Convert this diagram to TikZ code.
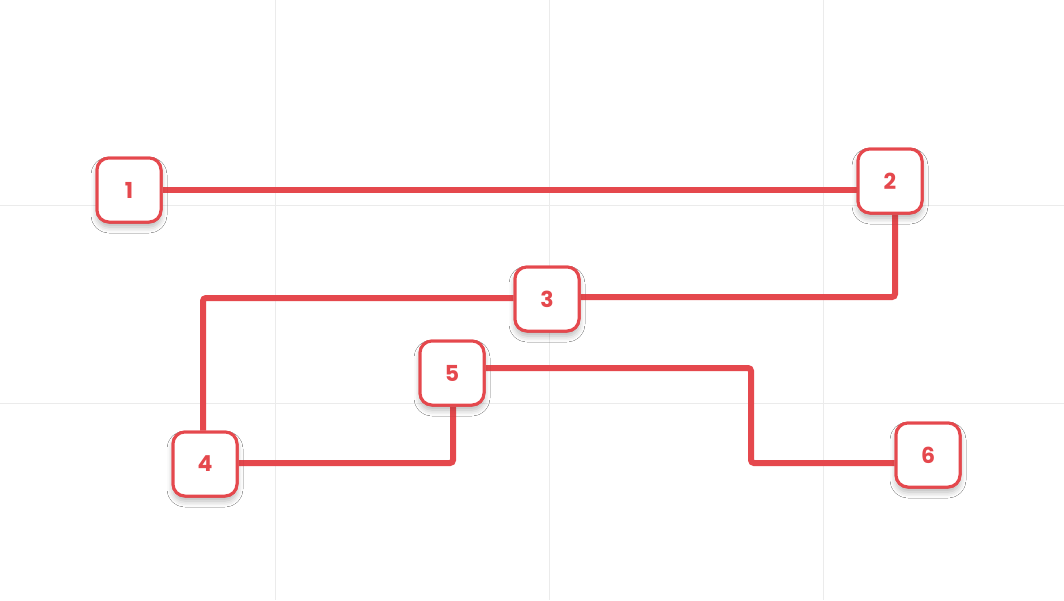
\documentclass[tikz,border=0pt]{standalone}
\usepackage{fontspec}
\setmainfont{Poppins}
\usetikzlibrary{shadows.blur}
\definecolor{rd}{HTML}{E5484D}
\definecolor{gr}{HTML}{EBEBEB}
\begin{document}
\begin{tikzpicture}[x=1pt,y=-1pt,
  box/.style={draw=rd,line width=3pt,fill=white,rounded corners=12pt,minimum width=64pt,minimum height=64pt,text=rd,font=\fontsize{22}{22}\selectfont\bfseries,blur shadow={shadow xshift=0pt,shadow yshift=-5pt,shadow blur radius=6pt,shadow opacity=15}},
  wire/.style={draw=rd,line width=6pt,rounded corners=3pt}]
\useasboundingbox (0,0) rectangle (1064,600);
\fill[white] (0,0) rectangle (1064,600);
\foreach \x in {275,549,823} \draw[gr,line width=1pt] (\x,0) -- (\x,600);
\foreach \y in {205,403} \draw[gr,line width=1pt] (0,\y) -- (1064,\y);
\coordinate (a) at (895,297);
\coordinate (b) at (203,298);
\coordinate (c) at (453,463);
\coordinate (d) at (751,368);
\coordinate (e) at (751,463);
\node[box] (n1) at (129,190) {1};
\node[box] (n2) at (890,181) {2};
\node[box] (n3) at (547,299) {3};
\node[box] (n4) at (205,464) {4};
\node[box] (n5) at (452,373) {5};
\node[box] (n6) at (928,455) {6};
\begin{scope}[on background layer/.try]
\end{scope}
\draw[wire] (n1.east |- 0,190) -- (n2.west |- 0,190);
\draw[wire] (n2.south -| 895,0) -- (a) -- (n3.east |- a);
\draw[wire] (n3.west |- b) -- (b) -- (n4.north -| b);
\draw[wire] (n4.east |- c) -- (c) -- (n5.south -| c);
\draw[wire] (n5.east |- d) -- (d) -- (e) -- (n6.west |- e);
\node[box] at (n1) {1};
\node[box] at (n2) {2};
\node[box] at (n3) {3};
\node[box] at (n4) {4};
\node[box] at (n5) {5};
\node[box] at (n6) {6};
\end{tikzpicture}
\end{document}
